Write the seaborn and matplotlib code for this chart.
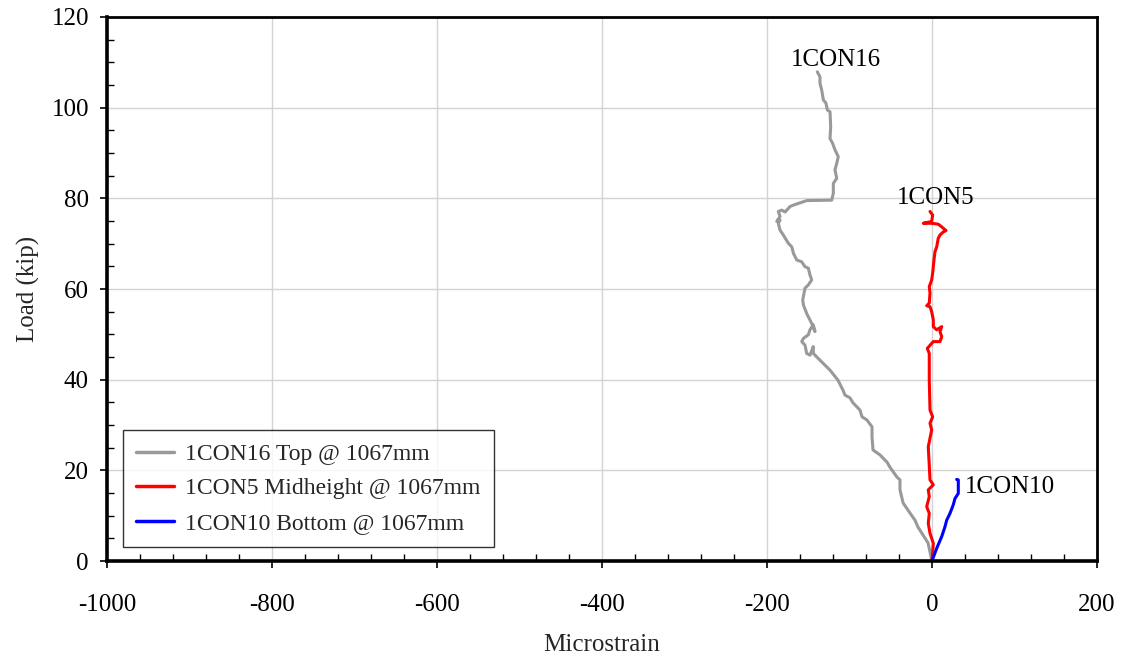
import numpy as np
import pandas as pd
import matplotlib
matplotlib.use("Agg")
import matplotlib.pyplot as plt
from matplotlib.ticker import MultipleLocator
import seaborn as sns

# Gauge readings: microstrain vs. applied load (kip)
top_strain = [0, -4.8, -12.5, -17, -20.6, -26.7, -35, -38.8, -38.8, -42.4, -51, -54.5,
              -63, -71.5, -72.7, -72.7, -78.8, -84.8, -87.3, -95.8, -99.4, -105.5, -107.9,
              -114, -123.6, -135.8, -143.9, -143.9, -147.9, -151.9, -153.9, -157.9, -155.9,
              -149.9, -147.9, -143.9, -141.8, -145.8, -151.9, -155.9, -156.7, -153.9, -149.9,
              -145.8, -147.9, -149.9, -153.9, -157.9, -164, -168, -170, -174.2, -180.2,
              -184.2, -186.3, -184.2, -188.2, -184.2, -186.3, -182.2, -178, -172.1, -168.1,
              -151.9, -121.6, -119.6, -119.6, -115.5, -117.6, -115.5, -113.6, -117.6, -120.4,
              -123.6, -122.8, -123.6, -126.9, -128.5, -131.7, -133.7, -135.8, -135.8, -139]
top_load = [0, 4.0, 6.2, 7.5, 9.0, 10.6, 12.8, 15.7, 17.9, 18.5, 20.7, 21.8,
            23.4, 24.5, 27.4, 29.6, 31.1, 31.8, 33.3, 34.9, 36.0, 36.6, 37.7,
            39.9, 42.1, 44.3, 45.8, 47.3, 45.4, 45.8, 47.6, 48.4, 49.1,
            49.9, 51.0, 52.1, 50.6, 52.4, 54.6, 56.5, 57.6, 60.2, 60.9,
            62.0, 63.1, 64.6, 64.9, 66.0, 66.4, 67.9, 69.3, 70.1, 71.9,
            73.0, 74.5, 75.2, 74.9, 76.0, 77.1, 77.4, 77.0, 78.2, 78.5,
            79.5, 79.6, 81.1, 83.3, 84.4, 86.3, 87.7, 89.2, 90.7, 92.1,
            93.2, 95.8, 99.1, 99.5, 101.0, 101.7, 103.9, 105.4, 106.8, 107.9]

mid_strain = [0, 1.6, -2.4, -4.5, -3.3, -6.4, -3.3, -4.5, 1.6, -2.4, -4.5, -0.4,
              -2.4, 0.8, -2.4, -3.3, -3.3, -5.7, -0.4, 1.6, 9.7, 11.8, 9.7, 11.8,
              5.7, 1.6, 1.6, -0.4, -2.4, -6.4, -3.3, -2.4, -3.3, -0.4, 0.8, 2.4,
              3.6, 5.7, 7.6, 9.7, 13.7, 17, 11.8, 7.6, -0.4, -10.5, -0.4, 0.8, -2.4]
mid_load = [0, 3.9, 6.1, 8.3, 10.5, 12.0, 14.2, 15.7, 16.8, 17.9, 25.2, 28.9,
            30.4, 31.8, 33.3, 39.9, 45.8, 46.9, 48.0, 48.4, 48.4, 49.5, 50.6, 51.7,
            51.0, 51.7, 53.2, 55.0, 56.1, 56.3, 56.9, 59.1, 60.5, 62.0, 63.5, 66.4,
            68.2, 69.3, 71.2, 71.9, 72.6, 72.9, 73.7, 74.3, 74.5, 74.5, 74.9, 76.3, 77.1]

bot_strain = [0, 5.7, 11.8, 15.8, 17.8, 21.8, 25.8, 27.9, 31.9, 31.9, 29.9]
bot_load = [0, 2.8, 5.4, 7.6, 9.0, 10.5, 12.4, 13.8, 14.9, 17.9, 18.0]

series_names = ["1CON16 Top @ 1067mm", "1CON5 Midheight @ 1067mm", "1CON10 Bottom @ 1067mm"]
series_colors = ["#999999", "#FF0000", "#0000FF"]
tag_text = ["1CON16", "1CON5", "1CON10"]
tag_pos = [(-117, 110.5), (4, 80.1), (94, 16.3)]
x_ticks = [-1000, -800, -600, -400, -200, 0, 200]
y_ticks = [0, 20, 40, 60, 80, 100, 120]

frames = []
for name, xs, ys in zip(series_names,
                        [top_strain, mid_strain, bot_strain],
                        [top_load, mid_load, bot_load]):
    frames.append(pd.DataFrame({"strain": xs, "load": ys, "gauge": name}))
df = pd.concat(frames, ignore_index=True)

sns.set_style("white")
plt.rcParams["font.family"] = ["Liberation Serif", "DejaVu Serif"]
plt.rcParams["axes.unicode_minus"] = False

fig = plt.figure(figsize=(11.22, 6.64), dpi=100)
ax = fig.add_axes([0.0954, 0.1551, 0.8823, 0.8193])

sns.lineplot(data=df, x="strain", y="load", hue="gauge", hue_order=series_names,
             palette=series_colors, sort=False, estimator=None, units="gauge",
             linewidth=2.2, ax=ax)

ax.set_xticks(x_ticks)
ax.set_yticks(y_ticks)
ax.xaxis.set_minor_locator(MultipleLocator(40))
ax.yaxis.set_minor_locator(MultipleLocator(5))
ax.set_xlim(-1000, 200)
ax.set_ylim(0, 120)

ax.grid(True, which="major", color="#D3D3D3", linewidth=1.0)
ax.set_axisbelow(True)
for s in ax.spines.values():
    s.set_visible(True)
    s.set_color("black")
    s.set_linewidth(2.0)
ax.spines["left"].set_linewidth(2.6)
ax.spines["bottom"].set_linewidth(2.6)

ax.tick_params(which="major", direction="out", length=5, width=1.2, colors="black",
               labelsize=18)
ax.tick_params(which="minor", direction="in", length=5, width=1.0, colors="black")
ax.tick_params(axis="x", which="major", pad=19)
ax.tick_params(axis="y", which="major", pad=8)
ax.tick_params(axis="x", which="both", top=False, bottom=True)
ax.tick_params(axis="y", which="both", left=True, right=False)

ax.set_xlabel("Microstrain", fontsize=18, labelpad=13)
ax.set_ylabel("Load (kip)", fontsize=18, labelpad=8)

for txt, (tx, ty) in zip(tag_text, tag_pos):
    ax.text(tx, ty, txt, fontsize=18, ha="center", va="center", color="black")

leg = ax.legend(loc="lower left", bbox_to_anchor=(0.016, 0.026), borderaxespad=0,
                fontsize=17, frameon=True, fancybox=False, handlelength=1.6,
                handletextpad=0.5, labelspacing=0.55, borderpad=0.55)
leg.get_frame().set_edgecolor("black")
leg.get_frame().set_linewidth(1.0)
for h in leg.get_lines():
    h.set_linewidth(2.5)

fig.savefig("out.png", dpi=100)
